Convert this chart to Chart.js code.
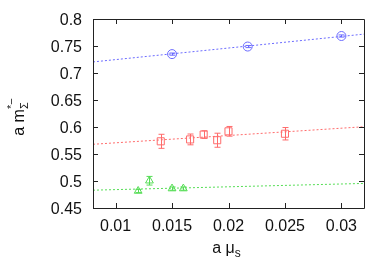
<!DOCTYPE html>
<html>
<head>
<meta charset="utf-8">
<script src="https://cdn.jsdelivr.net/npm/chart.js@4.4.1/dist/chart.umd.min.js"></script>
<style>
html,body{margin:0;padding:0;background:#fff;}
#wrap{width:392px;height:274px;position:relative;}
</style>
</head>
<body>
<div id="wrap"><canvas id="c" width="392" height="274"></canvas></div>
<script>
// ---- data ----
const xTicks = [0.01, 0.015, 0.02, 0.025, 0.03];
const yTicks = [0.45, 0.5, 0.55, 0.6, 0.65, 0.7, 0.75, 0.8];

const blueX   = [0.015, 0.0217, 0.03];
const blueY   = [0.735, 0.749, 0.7685];
const blueErr = [0.002, 0.002, 0.002];

const redX   = [0.014, 0.0166, 0.0178, 0.019, 0.02, 0.025];
const redY   = [0.5735, 0.577, 0.586, 0.5755, 0.592, 0.5875];
const redErr = [0.013, 0.010, 0.007, 0.013, 0.009, 0.0115];

const greenX   = [0.012, 0.013, 0.015, 0.016];
const greenY   = [0.4815, 0.5005, 0.486, 0.486];
const greenErr = [0.003, 0.008, 0.003, 0.003];

const fitX      = [0.008, 0.032];
const blueFitY  = [0.7205, 0.772];
const redFitY   = [0.568, 0.6005];
const greenFitY = [0.483, 0.4955];

const BLUE = '#6b6bff', RED = '#ff6b6b', GREEN = '#55dd55';
const FONT = '"Liberation Sans", Arial, sans-serif';

const pts = (xs, ys) => xs.map((x, i) => ({x: x, y: ys[i]}));

const errPlugin = {
  id: 'errbars',
  afterDatasetsDraw(chart) {
    const ctx = chart.ctx, xs = chart.scales.x, ys = chart.scales.y;
    const sets = [[blueX, blueY, blueErr, BLUE], [redX, redY, redErr, RED], [greenX, greenY, greenErr, GREEN]];
    ctx.save();
    ctx.lineWidth = 1;
    sets.forEach(([X, Y, E, col]) => {
      ctx.strokeStyle = col;
      X.forEach((x, i) => {
        const px = Math.round(xs.getPixelForValue(x)) + 0.5;
        const top = ys.getPixelForValue(Y[i] + E[i]);
        const bot = ys.getPixelForValue(Y[i] - E[i]);
        ctx.beginPath();
        ctx.moveTo(px, top); ctx.lineTo(px, bot);
        ctx.moveTo(px - 3, top); ctx.lineTo(px + 3, top);
        ctx.moveTo(px - 3, bot); ctx.lineTo(px + 3, bot);
        ctx.stroke();
      });
    });
    ctx.restore();
  }
};

const framePlugin = {
  id: 'frame',
  afterDraw(chart) {
    const ctx = chart.ctx, a = chart.chartArea, xs = chart.scales.x, ys = chart.scales.y;
    const L = Math.round(a.left), R = Math.round(a.right), T = Math.round(a.top), B = Math.round(a.bottom);
    ctx.save();
    ctx.strokeStyle = '#222';
    ctx.lineWidth = 1;
    ctx.beginPath();
    ctx.rect(L + 0.5, T + 0.5, R - L, B - T);
    ctx.stroke();
    ctx.beginPath();
    xTicks.forEach(v => {
      const px = Math.round(xs.getPixelForValue(v)) + 0.5;
      ctx.moveTo(px, B); ctx.lineTo(px, B - 5);
      ctx.moveTo(px, T); ctx.lineTo(px, T + 5);
    });
    yTicks.forEach(v => {
      const py = Math.round(ys.getPixelForValue(v)) + 0.5;
      ctx.moveTo(L, py); ctx.lineTo(L + 5, py);
      ctx.moveTo(R, py); ctx.lineTo(R - 5, py);
    });
    ctx.stroke();

    // tick labels
    ctx.fillStyle = '#111';
    ctx.font = '16px ' + FONT;
    ctx.textAlign = 'center';
    ctx.textBaseline = 'alphabetic';
    xTicks.forEach(v => {
      ctx.fillText(String(v), xs.getPixelForValue(v), B + 23);
    });
    ctx.textAlign = 'right';
    yTicks.forEach(v => {
      ctx.fillText(String(v), L - 11, ys.getPixelForValue(v) + 6);
    });

    // x title: a μ_s
    ctx.textAlign = 'left';
    const main = 'a \u03bc';
    ctx.font = '16px ' + FONT;
    const w1 = ctx.measureText(main).width;
    ctx.font = '12px ' + FONT;
    const w2 = ctx.measureText('s').width;
    const cx = (L + R) / 2 - 2;
    const x0 = cx - (w1 + w2) / 2;
    ctx.font = '16px ' + FONT;
    ctx.fillText(main, x0, 253);
    ctx.font = '12px ' + FONT;
    ctx.fillText('s', x0 + w1, 257);

    // y title: a m_Σ^{*-}
    ctx.save();
    ctx.translate(24, 119);
    ctx.rotate(-Math.PI / 2);
    ctx.font = '16px ' + FONT;
    const m = 'a m';
    const mw = ctx.measureText(m).width;
    ctx.font = '11px ' + FONT;
    const sw = ctx.measureText('\u03a3').width;
    const y0 = -(mw + sw) / 2;
    ctx.font = '16px ' + FONT;
    ctx.fillText(m, y0, 0);
    ctx.font = '11px ' + FONT;
    ctx.fillText('\u03a3', y0 + mw, 4);
    ctx.fillText('*\u2212', y0 + mw, -9);
    ctx.restore();
    ctx.restore();
  }
};

const lineDs = (ys, col) => ({
  type: 'line', data: pts(fitX, ys), borderColor: col, borderWidth: 1,
  borderDash: [2, 2], pointRadius: 0, fill: false, showLine: true, order: 2
});
const markDs = (xs, ys, col, style, r) => ({
  type: 'scatter', data: pts(xs, ys), borderColor: col, backgroundColor: 'rgba(0,0,0,0)',
  borderWidth: 1, pointStyle: style, pointRadius: r, pointHoverRadius: r, order: 1
});

new Chart(document.getElementById('c'), {
  type: 'scatter',
  data: {
    datasets: [
      lineDs(blueFitY, BLUE), lineDs(redFitY, RED), lineDs(greenFitY, GREEN),
      markDs(blueX, blueY, BLUE, 'circle', 4.5),
      markDs(redX, redY, RED, 'rect', 5),
      markDs(greenX, greenY, GREEN, 'triangle', 4.5)
    ]
  },
  options: {
    responsive: false,
    animation: false,
    events: [],
    layout: {padding: 0},
    plugins: {legend: {display: false}, tooltip: {enabled: false}},
    scales: {
      x: {
        type: 'linear', min: 0.008, max: 0.032,
        grid: {display: false}, border: {display: false},
        afterBuildTicks: s => { s.ticks = xTicks.map(v => ({value: v})); },
        afterFit: s => { s.height = 66; s.paddingLeft = 0; s.paddingRight = 0; },
        ticks: {display: false}
      },
      y: {
        type: 'linear', min: 0.45, max: 0.8,
        grid: {display: false}, border: {display: false},
        afterBuildTicks: s => { s.ticks = yTicks.map(v => ({value: v})); },
        afterFit: s => { s.width = 93; s.paddingTop = 0; s.paddingBottom = 0; },
        ticks: {display: false}
      }
    }
  },
  plugins: [{
    id: 'pad',
    beforeInit(chart) {
      chart.options.layout.padding = {top: 19, right: 28, left: 0, bottom: 0};
    }
  }, errPlugin, framePlugin]
});
</script>
</body>
</html>
